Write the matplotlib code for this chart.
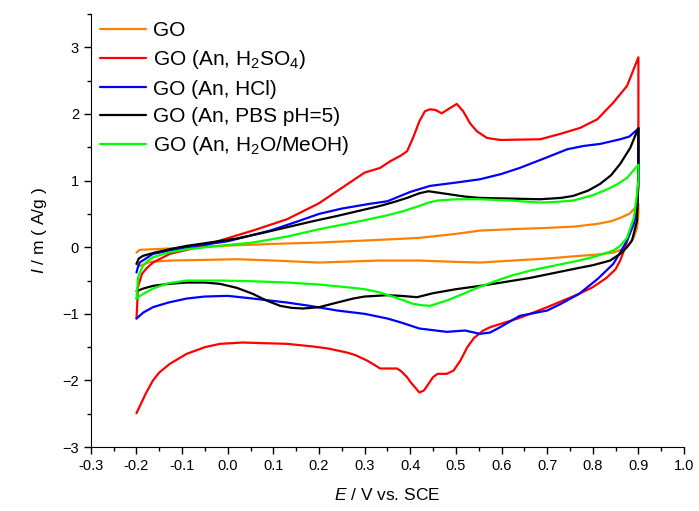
import matplotlib
matplotlib.use("Agg")
import matplotlib.pyplot as plt
from matplotlib.ticker import MultipleLocator

plt.rcParams["font.family"] = "Liberation Sans"
plt.rcParams["mathtext.fontset"] = "custom"
plt.rcParams["mathtext.rm"] = "Liberation Sans"
plt.rcParams["mathtext.it"] = "Liberation Sans:italic"

# GO
e_go = [-0.2, -0.193, -0.164, -0.1, -0.017, 0.1, 0.2, 0.3, 0.42, 0.5, 0.553, 0.62, 0.70,
        0.76, 0.81, 0.84, 0.86, 0.88, 0.897, 0.9,
        0.9, 0.897, 0.89, 0.88, 0.865, 0.845, 0.81, 0.77, 0.7, 0.625, 0.553, 0.5, 0.42,
        0.33, 0.2, 0.1, 0.02, -0.05, -0.127, -0.17, -0.193, -0.2]
i_go = [-0.08, -0.04, -0.03, -0.01, 0.02, 0.05, 0.07, 0.10, 0.14, 0.20, 0.25, 0.27, 0.29,
        0.31, 0.35, 0.39, 0.44, 0.50, 0.62, 0.65,
        0.50, 0.29, 0.15, 0.05, -0.03, -0.08, -0.11, -0.13, -0.17, -0.20, -0.23, -0.22, -0.20,
        -0.20, -0.23, -0.20, -0.18, -0.19, -0.20, -0.22, -0.28, -0.25]

# GO (An, H2SO4)
e_h2so4 = [-0.2, -0.198, -0.197, -0.188, -0.177, -0.164, -0.127, -0.09, -0.054, -0.017,
           0.055, 0.13, 0.2, 0.25, 0.3, 0.334, 0.356, 0.378, 0.393, 0.406, 0.42, 0.432,
           0.443, 0.455, 0.469, 0.485, 0.502, 0.516, 0.531, 0.546, 0.568, 0.597, 0.685,
           0.728, 0.772, 0.81, 0.845, 0.875, 0.9,
           0.9, 0.897, 0.89, 0.88, 0.87, 0.86, 0.85, 0.83, 0.80, 0.77, 0.70, 0.64, 0.575,
           0.56, 0.54, 0.525, 0.51, 0.495, 0.48, 0.46, 0.45, 0.44, 0.43, 0.42, 0.40, 0.393,
           0.38, 0.371, 0.35, 0.334, 0.32, 0.305, 0.28, 0.261, 0.22, 0.187, 0.13, 0.08,
           0.033, -0.017, -0.05, -0.09, -0.127, -0.15, -0.164, -0.18, -0.2]
i_h2so4 = [-1.07, -0.8, -0.6, -0.40, -0.31, -0.23, -0.10, -0.04, 0.02, 0.10,
           0.25, 0.42, 0.66, 0.89, 1.12, 1.19, 1.29, 1.37, 1.44, 1.64, 1.89, 2.04,
           2.07, 2.06, 2.01, 2.08, 2.15, 2.04, 1.86, 1.74, 1.64, 1.61, 1.62,
           1.70, 1.79, 1.92, 2.17, 2.42, 2.85,
           0.9, 0.65, 0.4, 0.2, -0.02, -0.2, -0.33, -0.46, -0.6, -0.70, -0.9, -1.06, -1.2,
           -1.25, -1.36, -1.5, -1.7, -1.85, -1.9, -1.9, -1.95, -2.05, -2.15, -2.18, -2.02, -1.95,
           -1.86, -1.82, -1.82, -1.82, -1.76, -1.70, -1.62, -1.58, -1.52, -1.49, -1.45, -1.44,
           -1.43, -1.45, -1.50, -1.60, -1.75, -1.88, -2.0, -2.2, -2.49]

# GO (An, HCl)
e_hcl = [-0.2, -0.197, -0.193, -0.164, -0.09, 0.0, 0.093, 0.15, 0.2, 0.25, 0.31, 0.35,
         0.4, 0.443, 0.5, 0.553, 0.6, 0.64, 0.7, 0.744, 0.78, 0.816, 0.86, 0.88, 0.9,
         0.9, 0.897, 0.89, 0.875, 0.86, 0.845, 0.81, 0.77, 0.73, 0.70, 0.64, 0.597,
         0.575, 0.553, 0.52, 0.48, 0.42, 0.38, 0.35, 0.3, 0.24, 0.18, 0.13, 0.055, 0.0,
         -0.05, -0.09, -0.13, -0.164, -0.185, -0.2]
i_hcl = [-0.38, -0.30, -0.23, -0.10, 0.0, 0.09, 0.25, 0.38, 0.5, 0.58, 0.65, 0.69,
         0.83, 0.92, 0.97, 1.02, 1.10, 1.19, 1.35, 1.47, 1.52, 1.55, 1.62, 1.66, 1.78,
         1.0, 0.55, 0.35, 0.10, -0.08, -0.25, -0.48, -0.70, -0.85, -0.95, -1.03, -1.20,
         -1.28, -1.30, -1.25, -1.27, -1.22, -1.13, -1.07, -1.00, -0.95, -0.88, -0.83, -0.77, -0.73,
         -0.74, -0.77, -0.83, -0.90, -0.98, -1.07]

# GO (An, PBS pH=5)
e_pbs = [-0.2, -0.195, -0.186, -0.16, -0.12, -0.09, -0.03, 0.02, 0.08, 0.13, 0.18, 0.24,
         0.29, 0.334, 0.365, 0.393, 0.42, 0.44, 0.46, 0.48, 0.52, 0.553, 0.62, 0.685,
         0.73, 0.757, 0.79, 0.816, 0.84, 0.86, 0.882, 0.9,
         0.9, 0.897, 0.886, 0.875, 0.86, 0.838, 0.8, 0.77, 0.72, 0.663, 0.6, 0.553, 0.5,
         0.45, 0.415, 0.38, 0.35, 0.3, 0.275, 0.24, 0.2, 0.165, 0.14, 0.115, 0.085, 0.055,
         0.02, -0.017, -0.05, -0.09, -0.13, -0.164, -0.185, -0.2]
i_pbs = [-0.25, -0.17, -0.13, -0.08, -0.02, 0.02, 0.08, 0.13, 0.22, 0.30, 0.38, 0.47,
         0.55, 0.62, 0.68, 0.74, 0.81, 0.84, 0.82, 0.80, 0.76, 0.74, 0.73, 0.72,
         0.74, 0.77, 0.85, 0.95, 1.08, 1.25, 1.49, 1.79,
         1.2, 0.40, 0.10, 0.0, -0.10, -0.20, -0.27, -0.31, -0.38, -0.46, -0.53, -0.58, -0.63,
         -0.69, -0.75, -0.73, -0.72, -0.74, -0.77, -0.83, -0.90, -0.92, -0.91, -0.88, -0.80, -0.70,
         -0.61, -0.55, -0.53, -0.53, -0.55, -0.58, -0.62, -0.66]

# GO (An, H2O/MeOH)
e_meoh = [-0.2, -0.198, -0.197, -0.19, -0.186, -0.175, -0.164, -0.13, -0.09, -0.02,
          0.055, 0.13, 0.2, 0.26, 0.31, 0.35, 0.384, 0.42, 0.44, 0.459, 0.5, 0.553,
          0.62, 0.685, 0.72, 0.757, 0.8, 0.832, 0.855, 0.875, 0.9,
          0.9, 0.897, 0.89, 0.875, 0.86, 0.845, 0.81, 0.77, 0.72, 0.663, 0.62, 0.59,
          0.55, 0.516, 0.48, 0.443, 0.425, 0.406, 0.37, 0.334, 0.3, 0.275, 0.2, 0.13,
          0.05, -0.017, -0.09, -0.13, -0.164, -0.185, -0.197, -0.2]
i_meoh = [-0.77, -0.60, -0.46, -0.34, -0.28, -0.20, -0.15, -0.08, -0.03, 0.02,
          0.07, 0.16, 0.27, 0.35, 0.42, 0.48, 0.54, 0.62, 0.67, 0.70, 0.72, 0.72,
          0.70, 0.67, 0.68, 0.70, 0.78, 0.87, 0.95, 1.04, 1.24,
          1.0, 0.80, 0.44, 0.14, 0.02, -0.05, -0.13, -0.20, -0.27, -0.35, -0.43, -0.50,
          -0.60, -0.70, -0.80, -0.88, -0.87, -0.85, -0.76, -0.68, -0.63, -0.61, -0.56, -0.53,
          -0.51, -0.50, -0.50, -0.54, -0.62, -0.70, -0.75, -0.77]

fig = plt.figure(figsize=(6.99, 5.11), dpi=100)
ax = fig.add_axes([0.130, 0.125, 0.8486, 0.8476])

kw = dict(lw=1.6, solid_joinstyle="round", solid_capstyle="round")
ax.plot(e_go, i_go, color="#FF8000", label="GO", **kw)
ax.plot(e_h2so4, i_h2so4, color="#FF0000", label=r"GO (An, H$_2$SO$_4$)", **kw)
ax.plot(e_hcl, i_hcl, color="#0000FF", label="GO (An, HCl)", **kw)
ax.plot(e_pbs, i_pbs, color="#000000", label="GO (An, PBS pH=5)", **kw)
ax.plot(e_meoh, i_meoh, color="#00FF00", label=r"GO (An, H$_2$O/MeOH)", **kw)

ax.set_xlim(-0.3, 1.0)
ax.set_ylim(-3, 3.5)
ax.spines["top"].set_visible(False)
ax.spines["right"].set_visible(False)
ax.xaxis.set_minor_locator(MultipleLocator(0.05))
ax.yaxis.set_minor_locator(MultipleLocator(0.5))
ax.set_yticks([-3, -2, -1, 0, 1, 2, 3])
ax.set_xticks([round(-0.3 + 0.1 * k, 1) for k in range(14)])
ax.set_xticklabels([f"{-0.3 + 0.1 * k:.1f}" for k in range(14)])
ax.tick_params(which="major", direction="out", length=5, width=1, labelsize=10.5)
ax.tick_params(which="minor", direction="out", length=3, width=1)

ax.set_xlabel(r"$E$ / V vs. SCE", fontsize=12.5, labelpad=10)
ax.set_ylabel(r"$I$ / m ( A/g )", fontsize=12.5, labelpad=10)

ax.legend(loc="upper left", bbox_to_anchor=(-0.017, 1.027), frameon=False,
          fontsize=15, handlelength=2.25, handletextpad=0.3, labelspacing=0.4,
          borderpad=0.4)

fig.savefig("out.png", dpi=100)
